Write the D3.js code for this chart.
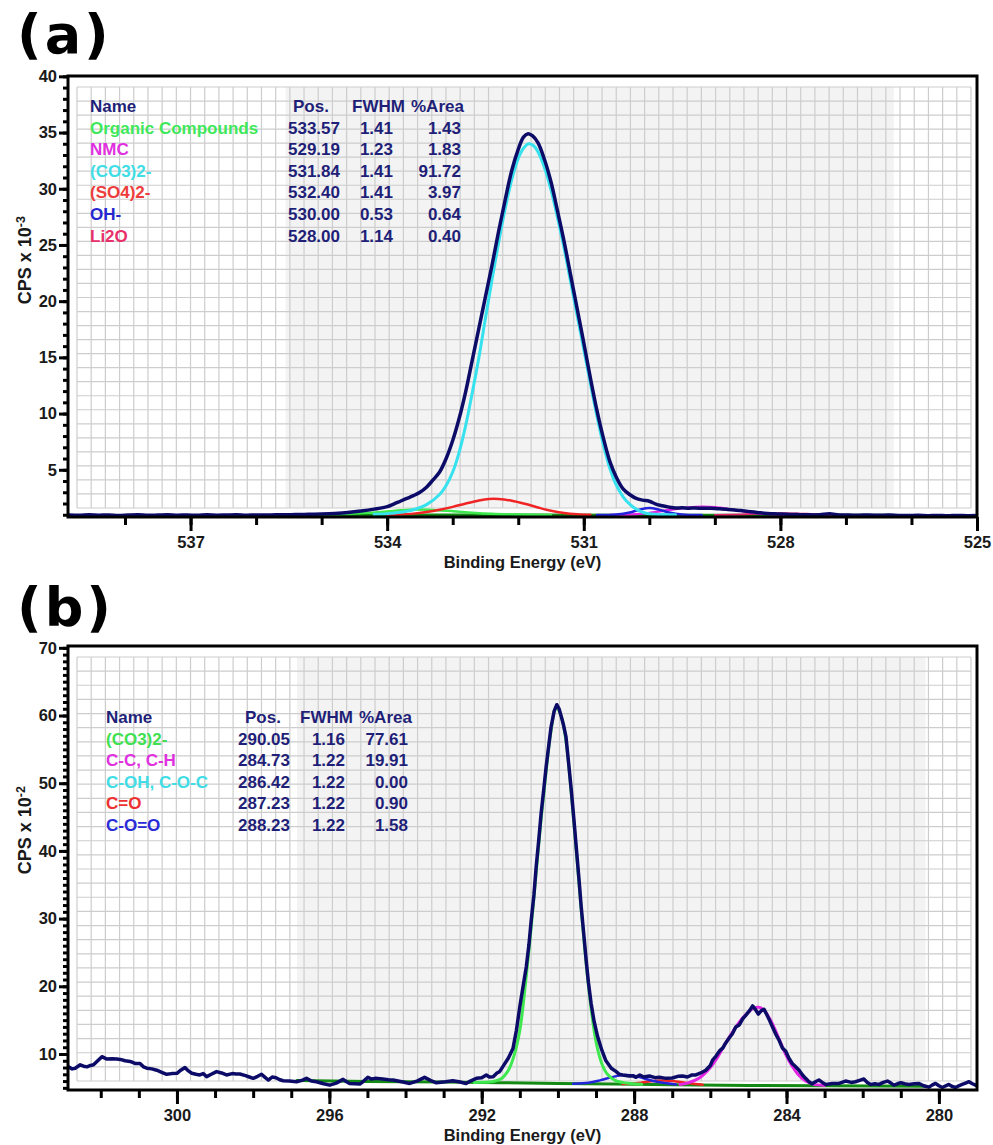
<!DOCTYPE html>
<html><head><meta charset="utf-8">
<script src="https://cdn.jsdelivr.net/npm/d3@7"></script>
<style>
html,body{margin:0;padding:0;background:#fff;}
svg{display:block;}
text{font-family:"Liberation Sans",Arial,sans-serif;font-weight:bold;}
</style></head><body>
<svg id="chart" width="993" height="1145"></svg>
<script>
// ---------------- Panel (a): O 1s ----------------
const aXTicks = [537, 534, 531, 528, 525];
const aYTicks = [5, 10, 15, 20, 25, 30, 35, 40];
const aFitRegion = [535.55, 526.27];
const aLegendNames = ["Organic Compounds", "NMC", "(CO3)2-", "(SO4)2-", "OH-", "Li2O"];
const aLegendPos = [533.57, 529.19, 531.84, 532.40, 530.00, 528.00];
const aLegendFWHM = [1.41, 1.23, 1.41, 1.41, 0.53, 1.14];
const aLegendArea = [1.43, 1.83, 91.72, 3.97, 0.64, 0.40];

const aSpectrum = [[538.85,0.98],[538.7,0.95],[538.55,0.99],[538.4,0.96],[538.25,0.98],[538.1,0.94],[537.95,0.97],[537.8,0.99],[537.65,0.95],[537.5,0.97],[537.35,1.0],[537.2,0.96],[537.05,0.98],[536.9,0.95],[536.75,0.99],[536.6,0.96],[536.45,0.98],[536.3,1.0],[536.15,0.96],[536.0,0.98],[535.85,0.97],[535.7,1.0],[535.55,0.99],[535.4,1.02],[535.2,1.04],[535.0,1.07],[534.8,1.12],[534.6,1.2],[534.4,1.33],[534.2,1.5],[534.0,1.72],[533.9,1.95],[533.8,2.2],[533.7,2.45],[533.6,2.7],[533.5,3.0],[533.4,3.45],[533.3,4.1],[533.2,4.8],[533.1,6.0],[533.0,7.6],[532.9,9.6],[532.8,12.0],[532.7,14.8],[532.6,17.6],[532.5,20.4],[532.4,23.2],[532.3,26.2],[532.2,29.0],[532.1,31.6],[532.0,33.5],[531.92,34.6],[531.85,34.9],[531.78,34.7],[531.7,34.1],[531.6,32.6],[531.5,30.6],[531.4,28.0],[531.3,25.3],[531.2,22.3],[531.1,19.3],[531.0,16.3],[530.9,13.2],[530.8,10.3],[530.7,7.8],[530.6,5.7],[530.5,4.3],[530.4,3.3],[530.3,2.8],[530.2,2.45],[530.1,2.3],[530.0,2.2],[529.9,1.95],[529.8,1.8],[529.7,1.68],[529.6,1.6],[529.5,1.62],[529.4,1.58],[529.3,1.6],[529.2,1.58],[529.1,1.57],[529.0,1.56],[528.9,1.52],[528.8,1.47],[528.7,1.42],[528.6,1.37],[528.5,1.3],[528.4,1.24],[528.3,1.17],[528.2,1.12],[528.1,1.08],[528.0,1.06],[527.85,1.03],[527.7,1.01],[527.55,0.99],[527.4,1.0],[527.25,1.08],[527.1,0.98],[526.95,0.97],[526.8,0.96],[526.65,0.98],[526.5,0.95],[526.35,0.97],[526.2,0.94],[526.05,0.93],[525.9,0.95],[525.75,0.92],[525.6,0.94],[525.45,0.91],[525.3,0.94],[525.15,0.92],[524.97,0.93]];
const aBackground = [[535.55,0.98],[534.0,0.97],[532.0,0.97],[530.0,0.96],[528.0,0.95],[526.27,0.95]];
const aOrganic = [[535.5,0.99],[535.0,1.02],[534.6,1.08],[534.3,1.17],[534.0,1.3],[533.8,1.4],[533.57,1.47],[533.3,1.43],[533.0,1.32],[532.7,1.18],[532.4,1.08],[532.0,1.02],[531.5,0.98]];
const aCO3 = [[534.2,1.04],[534.0,1.1],[533.8,1.22],[533.6,1.45],[533.4,1.9],[533.2,2.8],[533.1,3.6],[533.0,4.8],[532.9,6.6],[532.8,9.0],[532.7,11.9],[532.6,15.0],[532.5,18.5],[532.4,21.9],[532.3,25.2],[532.2,28.2],[532.1,30.8],[532.0,32.7],[531.92,33.6],[531.84,34.0],[531.76,33.8],[531.7,33.3],[531.6,31.9],[531.5,29.9],[531.4,27.4],[531.3,24.7],[531.2,21.7],[531.1,18.7],[531.0,15.7],[530.9,12.7],[530.8,9.8],[530.7,7.2],[530.6,5.1],[530.5,3.6],[530.4,2.6],[530.3,1.95],[530.2,1.5],[530.1,1.22],[530.0,1.08],[529.8,1.02],[529.6,0.99]];
const aSO4 = [[534.0,1.0],[533.8,1.03],[533.6,1.1],[533.4,1.25],[533.2,1.45],[533.0,1.7],[532.8,2.0],[532.6,2.27],[532.45,2.4],[532.3,2.4],[532.1,2.25],[531.9,1.98],[531.7,1.65],[531.5,1.35],[531.3,1.15],[531.1,1.04],[530.9,0.99]];
const aOH = [[530.8,0.97],[530.5,1.02],[530.3,1.2],[530.15,1.45],[530.0,1.6],[529.85,1.45],[529.7,1.2],[529.5,1.02],[529.2,0.97]];
const aNMC = [[530.6,0.97],[530.2,1.05],[529.9,1.25],[529.6,1.5],[529.4,1.65],[529.19,1.72],[529.0,1.67],[528.8,1.52],[528.5,1.25],[528.2,1.07],[527.8,0.98],[527.4,0.96]];
const aLi2O = [[529.0,0.97],[528.6,1.03],[528.3,1.1],[528.0,1.14],[527.7,1.1],[527.4,1.03],[527.0,0.97]];

// ---------------- Panel (b): C 1s ----------------
const bXTicks = [300, 296, 292, 288, 284, 280];
const bYTicks = [10, 20, 30, 40, 50, 60, 70];
const bFitRegion = [296.85, 280.35];
const bLegendNames = ["(CO3)2-", "C-C, C-H", "C-OH, C-O-C", "C=O", "C-O=O"];
const bLegendPos = [290.05, 284.73, 286.42, 287.23, 288.23];
const bLegendFWHM = [1.16, 1.22, 1.22, 1.22, 1.22];
const bLegendArea = [77.61, 19.91, 0.00, 0.90, 1.58];

const bSpectrum = [[302.85,8.1],[302.75,7.8],[302.67,7.9],[302.54,8.4],[302.45,8.2],[302.36,8.1],[302.27,8.3],[302.19,8.4],[302.08,9.0],[301.97,9.6],[301.84,9.25],[301.7,9.3],[301.58,9.25],[301.49,9.2],[301.36,9.0],[301.23,8.9],[301.1,8.6],[300.97,8.6],[300.88,8.1],[300.79,7.9],[300.66,7.8],[300.53,7.6],[300.4,7.3],[300.27,7.0],[300.14,7.1],[300.0,7.15],[299.9,7.6],[299.79,8.0],[299.7,7.5],[299.61,7.15],[299.5,7.0],[299.4,6.9],[299.31,7.1],[299.22,6.65],[299.1,7.0],[298.96,7.4],[298.83,7.2],[298.7,6.9],[298.55,7.1],[298.45,7.05],[298.35,7.05],[298.2,6.8],[298.1,6.6],[298.0,6.4],[297.88,6.7],[297.78,7.0],[297.68,6.5],[297.6,6.15],[297.5,6.6],[297.4,6.5],[297.3,6.2],[297.21,6.05],[297.05,6.0],[296.86,5.9],[296.72,6.1],[296.6,6.4],[296.47,6.0],[296.34,5.9],[296.15,5.6],[295.99,5.4],[295.82,5.7],[295.64,6.25],[295.55,5.9],[295.47,5.65],[295.33,5.6],[295.2,5.55],[295.1,6.0],[294.99,6.55],[294.89,6.3],[294.8,6.4],[294.6,6.3],[294.45,6.2],[294.33,6.15],[294.1,5.9],[293.89,5.65],[293.7,6.0],[293.5,6.55],[293.35,6.1],[293.19,5.75],[292.95,5.9],[292.76,6.05],[292.6,5.9],[292.41,5.65],[292.3,6.0],[292.14,6.4],[292.0,6.5],[291.88,6.9],[291.8,6.6],[291.7,6.65],[291.6,7.2],[291.53,7.4],[291.45,8.1],[291.3,9.4],[291.18,10.8],[291.09,13.5],[291.0,17.0],[290.92,19.8],[290.83,22.9],[290.76,26.2],[290.7,29.8],[290.63,33.5],[290.57,37.7],[290.5,41.8],[290.44,45.6],[290.37,49.2],[290.31,52.4],[290.24,55.6],[290.18,58.3],[290.1,60.6],[290.03,61.6],[289.97,61.0],[289.9,59.6],[289.85,58.5],[289.79,56.9],[289.72,53.0],[289.65,49.0],[289.58,44.6],[289.52,40.6],[289.45,36.0],[289.39,31.8],[289.32,27.6],[289.26,23.9],[289.2,20.6],[289.13,17.5],[289.05,14.8],[288.96,12.6],[288.85,10.6],[288.74,9.0],[288.6,7.9],[288.47,7.4],[288.39,7.0],[288.3,6.9],[288.13,6.75],[288.04,6.8],[287.95,6.55],[287.85,6.9],[287.75,6.6],[287.6,6.75],[287.45,6.5],[287.34,6.55],[287.16,6.4],[287.0,6.45],[286.85,6.7],[286.73,6.75],[286.6,6.6],[286.48,6.9],[286.38,6.9],[286.25,7.2],[286.12,7.6],[286.0,8.3],[285.94,9.1],[285.85,9.7],[285.75,10.5],[285.67,10.9],[285.6,11.6],[285.5,12.4],[285.42,13.0],[285.33,14.0],[285.24,14.3],[285.15,15.2],[285.07,15.7],[284.97,16.4],[284.89,17.1],[284.82,16.6],[284.74,15.9],[284.66,16.4],[284.59,16.6],[284.5,15.6],[284.44,14.9],[284.37,14.0],[284.28,12.9],[284.2,12.1],[284.11,10.9],[284.02,10.4],[283.94,9.4],[283.85,8.6],[283.76,8.1],[283.67,7.6],[283.58,6.9],[283.5,6.4],[283.41,5.9],[283.33,5.6],[283.24,5.9],[283.15,6.15],[283.06,5.8],[282.97,5.5],[282.8,5.65],[282.62,5.65],[282.45,6.0],[282.3,5.8],[282.19,5.9],[282.08,6.1],[281.97,6.3],[281.88,5.8],[281.79,5.5],[281.68,5.6],[281.57,5.5],[281.46,5.8],[281.35,6.0],[281.26,5.7],[281.18,5.4],[281.09,5.6],[281.0,5.75],[280.9,5.6],[280.79,5.5],[280.65,5.6],[280.52,5.65],[280.4,5.3],[280.26,5.1],[280.18,5.4],[280.09,5.65],[280.0,5.3],[279.91,5.05],[279.82,5.3],[279.74,5.5],[279.65,5.2],[279.56,5.05],[279.48,5.3],[279.39,5.5],[279.3,5.7],[279.21,5.9],[279.12,5.6],[279.04,5.4]];
const bBackground = [[296.85,6.1],[295.0,5.95],[293.0,5.85],[291.5,5.75],[290.0,5.65],[288.5,5.55],[287.0,5.45],[285.0,5.35],[283.0,5.3],[280.35,5.25]];
const bCO3 = [[292.2,5.8],[292.0,5.82],[291.7,5.95],[291.5,6.3],[291.3,7.6],[291.15,9.8],[291.0,13.5],[290.85,20.5],[290.7,28.8],[290.57,36.9],[290.44,44.8],[290.31,51.8],[290.18,57.8],[290.05,61.2],[289.92,60.0],[289.79,56.3],[289.65,48.6],[289.52,40.2],[289.39,31.4],[289.26,23.4],[289.13,16.8],[289.0,11.8],[288.85,8.6],[288.7,7.0],[288.5,6.1],[288.2,5.7],[287.8,5.52]];
const bCC = [[286.8,5.5],[286.6,5.7],[286.3,6.4],[286.0,8.0],[285.8,9.6],[285.6,11.6],[285.4,13.4],[285.2,15.0],[285.0,16.2],[284.85,16.8],[284.73,16.9],[284.6,16.5],[284.45,15.3],[284.3,13.6],[284.15,11.6],[284.0,9.7],[283.85,8.2],[283.7,7.0],[283.5,6.0],[283.3,5.55],[283.0,5.35]];
const bCOO = [[289.6,5.6],[289.2,5.75],[288.9,6.1],[288.6,6.55],[288.35,6.85],[288.2,6.9],[288.0,6.8],[287.75,6.4],[287.5,6.0],[287.2,5.7],[286.9,5.5]];
const bCdO = [[288.3,5.55],[287.9,5.7],[287.6,5.95],[287.23,6.1],[286.9,5.95],[286.6,5.7],[286.2,5.45]];

// ---------------- drawing ----------------
const svg = d3.select("#chart");
const fmt2 = d3.format(".2f");

function panel(o) {
  const g = svg.append("g");
  const x = d3.scaleLinear().domain(o.xDomain).range([o.left, o.right]);
  const y = d3.scaleLinear().domain(o.yDomain).range([o.bottom, o.top]);

  // inner grid area (CasaXPS style)
  const gx0 = o.left + 9, gx1 = o.right - 6, gy0 = o.top + 11, gy1 = o.bottom - 9;
  g.append("rect").attr("x", gx0).attr("y", gy0).attr("width", gx1 - gx0).attr("height", gy1 - gy0).attr("fill", "#ffffff");
  const sx0 = Math.max(gx0, x(o.fit[0])), sx1 = Math.min(gx1, x(o.fit[1]));
  g.append("rect").attr("x", sx0).attr("y", gy0).attr("width", sx1 - sx0).attr("height", gy1 - gy0).attr("fill", "#f3f3f3");
  const nc = 63, nr = 30;
  const gsx = d3.scaleLinear().domain([0, nc]).range([gx0, gx1]);
  const gsy = d3.scaleLinear().domain([0, nr]).range([gy0, gy1]);
  g.append("g").selectAll("line").data(d3.range(nc + 1)).join("line")
    .attr("x1", d => gsx(d)).attr("x2", d => gsx(d)).attr("y1", gy0).attr("y2", gy1)
    .attr("stroke", "#cdcdcd").attr("stroke-width", 1.2);
  g.append("g").selectAll("line").data(d3.range(nr + 1)).join("line")
    .attr("y1", d => gsy(d)).attr("y2", d => gsy(d)).attr("x1", gx0).attr("x2", gx1)
    .attr("stroke", "#cdcdcd").attr("stroke-width", 1.2);

  // clip
  const cid = "clip" + o.id;
  svg.append("clipPath").attr("id", cid).append("rect")
    .attr("x", o.left).attr("y", o.top).attr("width", o.right - o.left).attr("height", o.bottom - o.top);
  const lines = g.append("g").attr("clip-path", `url(#${cid})`);
  o.series.forEach(s => {
    const line = d3.line().x(d => x(d[0])).y(d => y(d[1]))
      .curve(s.smooth ? d3.curveCatmullRom.alpha(0.5) : d3.curveLinear);
    lines.append("path").datum(s.data).attr("d", line)
      .attr("fill", "none").attr("stroke", s.color).attr("stroke-width", s.width)
      .attr("stroke-linejoin", "round").attr("stroke-linecap", "round");
  });

  // frame
  g.append("rect").attr("x", o.left).attr("y", o.top).attr("width", o.right - o.left).attr("height", o.bottom - o.top)
    .attr("fill", "none").attr("stroke", "#000").attr("stroke-width", 3);

  // axes
  const xMinor = g.append("g").attr("transform", `translate(0,${o.bottom})`)
    .call(d3.axisBottom(x).tickValues(o.xMinor).tickSize(8).tickFormat(""));
  const xMajor = g.append("g").attr("transform", `translate(0,${o.bottom})`)
    .call(d3.axisBottom(x).tickValues(o.xTicks).tickSize(14).tickPadding(5).tickFormat(d3.format("d")));
  const yMinor = g.append("g").attr("transform", `translate(${o.left},0)`)
    .call(d3.axisLeft(y).tickValues(o.yMinor).tickSize(5).tickFormat(""));
  const yMajor = g.append("g").attr("transform", `translate(${o.left},0)`)
    .call(d3.axisLeft(y).tickValues(o.yTicks).tickSize(9).tickPadding(2).tickFormat(d3.format("d")));
  [xMinor, xMajor, yMinor, yMajor].forEach(a => {
    a.select(".domain").remove();
    a.selectAll(".tick line").attr("stroke", "#000").attr("stroke-width", 3);
    a.selectAll(".tick text").attr("fill", "#1a1a1a").style("font-size", "16.5px")
      .style("font-family", '"Liberation Sans", Arial, sans-serif').style("font-weight", "bold");
  });

  // axis titles
  g.append("text").attr("x", (o.left + o.right) / 2).attr("y", o.bottom + 51)
    .attr("text-anchor", "middle").attr("fill", "#1a1a1a").style("font-size", "16.5px").text("Binding Energy (eV)");
  const yt = g.append("text").attr("transform", `translate(31,${o.top + 140}) rotate(-90)`)
    .attr("text-anchor", "end").attr("fill", "#1a1a1a").style("font-size", "18px");
  yt.append("tspan").text("CPS x 10");
  yt.append("tspan").attr("dy", "-0.45em").style("font-size", "12.5px").text(o.exp);

  // panel letter
  svg.append("text").attr("x", 17).attr("y", o.letterY)
    .style("font-family", '"DejaVu Sans", sans-serif').style("font-size", "54px").style("font-weight", "bold")
    .style("letter-spacing", "3px").attr("fill", "#000").text(o.letter);

  // legend table
  const L = o.legend;
  const lg = g.append("g").style("font-size", "17px");
  const navy = "#1f1f78";
  const rowY = i => L.y0 + i * 21.6;
  lg.append("text").attr("x", L.nameX).attr("y", rowY(0)).attr("dy", "0.35em").attr("fill", navy).text("Name");
  lg.append("text").attr("x", L.posH).attr("y", rowY(0)).attr("dy", "0.35em").attr("fill", navy).text("Pos.");
  lg.append("text").attr("x", L.fwhmH).attr("y", rowY(0)).attr("dy", "0.35em").attr("fill", navy).text("FWHM");
  lg.append("text").attr("x", L.areaH).attr("y", rowY(0)).attr("dy", "0.35em").attr("fill", navy).text("%Area");
  L.names.forEach((nm, i) => {
    const yy = rowY(i + 1);
    lg.append("text").attr("x", L.nameX).attr("y", yy).attr("dy", "0.35em").attr("fill", L.colors[i]).text(nm);
    lg.append("text").attr("x", L.posR).attr("y", yy).attr("dy", "0.35em").attr("text-anchor", "end").attr("fill", navy).text(fmt2(L.pos[i]));
    lg.append("text").attr("x", L.fwhmR).attr("y", yy).attr("dy", "0.35em").attr("text-anchor", "end").attr("fill", navy).text(fmt2(L.fwhm[i]));
    lg.append("text").attr("x", L.areaR).attr("y", yy).attr("dy", "0.35em").attr("text-anchor", "end").attr("fill", navy).text(fmt2(L.area[i]));
  });
}

const C = {
  navy: "#0c0c68", dkgreen: "#138a13", ltgreen: "#3ee84e", cyan: "#36e2ee",
  red: "#f02424", magenta: "#e426e4", blue: "#2424dc", crimson: "#e2246a"
};

panel({
  id: "a", letter: "(a)", letterY: 53, exp: "-3",
  left: 68, right: 977, top: 76, bottom: 517,
  xDomain: [538.87, 525.0], yDomain: [0.8, 40.03],
  xTicks: aXTicks, xMinor: d3.range(525, 539), yTicks: aYTicks, yMinor: d3.range(1, 41),
  fit: aFitRegion,
  series: [
    { data: aBackground, color: C.dkgreen, width: 3, smooth: false },
    { data: aOrganic, color: C.ltgreen, width: 2.5, smooth: true },
    { data: aLi2O, color: C.crimson, width: 2, smooth: true },
    { data: aNMC, color: C.magenta, width: 2.5, smooth: true },
    { data: aOH, color: C.blue, width: 2.5, smooth: true },
    { data: aSO4, color: C.red, width: 2.5, smooth: true },
    { data: aCO3, color: C.cyan, width: 3, smooth: true },
    { data: aSpectrum, color: C.navy, width: 3.5, smooth: true }
  ],
  legend: {
    y0: 106, nameX: 90, posH: 293, fwhmH: 352, areaH: 411, posR: 340, fwhmR: 393, areaR: 461,
    names: aLegendNames, pos: aLegendPos, fwhm: aLegendFWHM, area: aLegendArea,
    colors: ["#3ee85a", "#e030e0", "#40dde6", "#ee3c3c", "#2626d0", "#e8306a"]
  }
});

panel({
  id: "b", letter: "(b)", letterY: 626, exp: "-2",
  left: 68, right: 977, top: 646, bottom: 1090,
  xDomain: [302.86, 279.0], yDomain: [4.68, 70.27],
  xTicks: bXTicks, xMinor: d3.range(280, 303), yTicks: bYTicks, yMinor: d3.range(5, 71),
  fit: bFitRegion,
  series: [
    { data: bBackground, color: C.dkgreen, width: 3, smooth: false },
    { data: bCdO, color: C.red, width: 2.5, smooth: true },
    { data: bCOO, color: C.blue, width: 2.5, smooth: true },
    { data: bCC, color: C.magenta, width: 3, smooth: true },
    { data: bCO3, color: C.ltgreen, width: 3, smooth: true },
    { data: bSpectrum, color: C.navy, width: 3.5, smooth: false }
  ],
  legend: {
    y0: 717, nameX: 106, posH: 245, fwhmH: 300, areaH: 359, posR: 290, fwhmR: 345, areaR: 408,
    names: bLegendNames, pos: bLegendPos, fwhm: bLegendFWHM, area: bLegendArea,
    colors: ["#40e050", "#e030e0", "#40dde6", "#ee3030", "#2a2ad8"]
  }
});
</script>
</body></html>
